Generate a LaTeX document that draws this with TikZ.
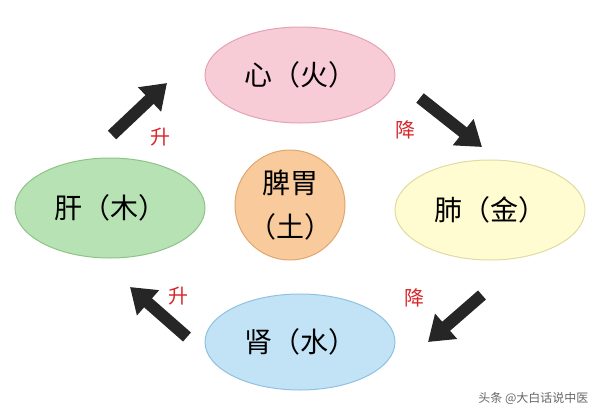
\documentclass[tikz,border=0pt]{standalone}
\usepackage{fontspec}
\newfontfamily\cjk{Noto Sans CJK SC}
\usetikzlibrary{shapes.geometric,arrows.meta}
\definecolor{pinkf}{HTML}{F8CCD6}\definecolor{pinkd}{HTML}{E3A3B4}
\definecolor{greenf}{HTML}{B7E2B3}\definecolor{greend}{HTML}{8CC488}
\definecolor{yelf}{HTML}{FFFCD2}\definecolor{yeld}{HTML}{E0DBA0}
\definecolor{bluef}{HTML}{C2E2F6}\definecolor{blued}{HTML}{8FC2E2}
\definecolor{orf}{HTML}{F9CB9C}\definecolor{ord}{HTML}{E0A66E}
\definecolor{redt}{HTML}{D9262B}
\tikzset{el/.style={ellipse,draw,line width=1pt,minimum width=190pt,minimum height=96pt,font=\cjk\fontsize{28}{32}\selectfont},
fat/.style={line width=12pt,-{Triangle[length=24pt,width=32pt]},black!85},
lab/.style={font=\cjk\fontsize{20}{24}\selectfont,text=redt}}
\begin{document}
\begin{tikzpicture}[x=1pt,y=-1pt]
\useasboundingbox (0,0) rectangle (600,413);
\node[el,fill=pinkf,draw=pinkd] (fire) at (300,75) {心（火）};
\node[el,fill=greenf,draw=greend,minimum height=100pt] (wood) at (110,208) {肝（木）};
\node[el,fill=yelf,draw=yeld,minimum height=100pt] (metal) at (490,210) {肺（金）};
\node[el,fill=bluef,draw=blued] (water) at (300,342) {肾（水）};
\node[circle,draw=ord,fill=orf,line width=1pt,minimum size=110pt,align=center,font=\cjk\fontsize{28}{44}\selectfont,inner sep=0pt] (earth) at (290,205) {脾胃\\（土）};
\coordinate (a1) at (112,135); \coordinate (b1) at (167,83);
\coordinate (a2) at (420,98); \coordinate (b2) at (482,147);
\coordinate (a3) at (482,295); \coordinate (b3) at (428,342);
\coordinate (a4) at (187,337); \coordinate (b4) at (130,287);
\draw[fat] (a1) -- (b1);
\draw[fat] (a2) -- (b2);
\draw[fat] (a3) -- (b3);
\draw[fat] (a4) -- (b4);
\node[lab] (l1) at (160,137) {升};
\node[lab] (l2) at (405,130) {降};
\node[lab] (l3) at (414,298) {降};
\node[lab] (l4) at (178,296) {升};
\node[font=\cjk\fontsize{12}{14}\selectfont,text=black!60,anchor=east] (wm) at (592,398) {头条 @大白话说中医};
\end{tikzpicture}
\end{document}
